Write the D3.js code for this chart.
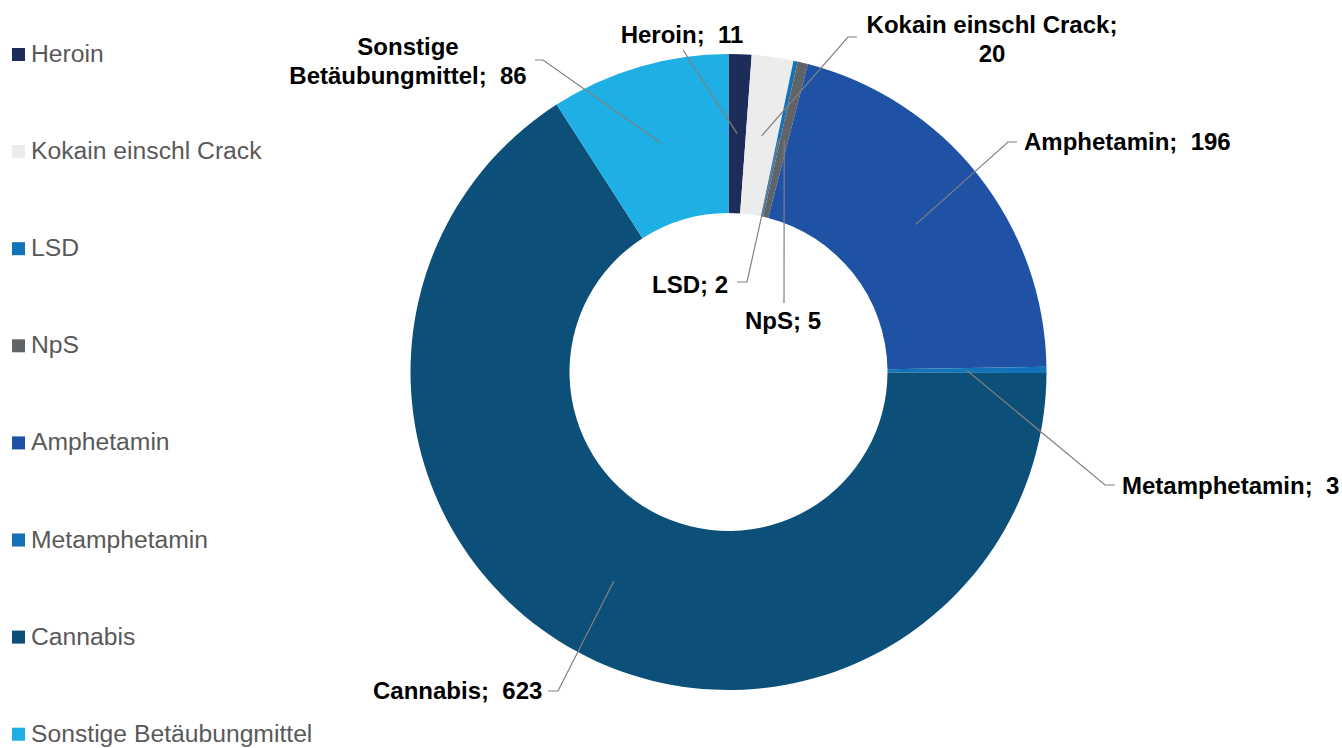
<!DOCTYPE html>
<html>
<head>
<meta charset="utf-8">
<script src="https://cdn.jsdelivr.net/npm/d3@7"></script>
<style>
  html, body { margin: 0; padding: 0; background: #ffffff; }
  svg { display: block; }
</style>
</head>
<body>
<svg id="chart" width="1342" height="748"></svg>
<script>
// Substances and counts
const categories = ["Heroin", "Kokain einschl Crack", "LSD", "NpS", "Amphetamin", "Metamphetamin", "Cannabis", "Sonstige Betäubungmittel"];
const values = [11, 20, 2, 5, 196, 3, 623, 86];
const colors = ["#1e2c5a", "#ececec", "#1273b9", "#616466", "#1f52a4", "#1273b9", "#0c4f78", "#1eb0e4"];

// Data label text lines (label text as shown next to each slice)
const labelLines = [
  ["Heroin;\u00a0 11"],
  ["Kokain einschl Crack;", "20"],
  ["LSD; 2"],
  ["NpS; 5"],
  ["Amphetamin;\u00a0 196"],
  ["Metamphetamin;\u00a0 3"],
  ["Cannabis;\u00a0 623"],
  ["Sonstige", "Betäubungmittel;\u00a0 86"]
];

// Label placement: text anchor point, alignment, and leader-line elbow points
const labelLayout = [
  { x: 682, y: 43, anchor: "middle", elbow: [[683, 50]] },
  { x: 992, y: 33, anchor: "middle", elbow: [[857, 37], [848, 37]] },
  { x: 728, y: 293, anchor: "end", elbow: [[737, 282], [747, 282]] },
  { x: 745, y: 329, anchor: "start", elbow: [[784, 303]] },
  { x: 1024, y: 150, anchor: "start", elbow: [[1017, 142], [1008, 142]] },
  { x: 1122, y: 494, anchor: "start", elbow: [[1115, 485], [1105, 485]] },
  { x: 373, y: 699, anchor: "start", elbow: [[548, 691], [558, 691]] },
  { x: 408, y: 55, anchor: "middle", elbow: [[535, 60], [543, 60]] }
];

const svg = d3.select("#chart");
const cx = 728.5, cy = 372;
const outerR = 318, innerR = 159;

const data = categories.map((c, i) => ({ name: c, value: values[i], color: colors[i], lines: labelLines[i], layout: labelLayout[i] }));

const pie = d3.pie().sort(null).value(d => d.value);
const arcs = pie(data);

const arc = d3.arc().innerRadius(innerR).outerRadius(outerR);
const midArc = d3.arc().innerRadius((innerR + outerR) / 2).outerRadius((innerR + outerR) / 2);

const g = svg.append("g").attr("transform", `translate(${cx},${cy})`);

g.selectAll("path.slice")
  .data(arcs)
  .enter().append("path")
  .attr("class", "slice")
  .attr("d", arc)
  .attr("fill", d => d.data.color);

// Leader lines
const line = d3.line();
svg.selectAll("path.leader")
  .data(arcs)
  .enter().append("path")
  .attr("class", "leader")
  .attr("d", d => {
    const c = midArc.centroid(d);
    const pts = d.data.layout.elbow.concat([[cx + c[0], cy + c[1]]]);
    return line(pts);
  })
  .attr("fill", "none")
  .attr("stroke", "#808080")
  .attr("stroke-width", 1.2);

// Data labels
const lbl = svg.selectAll("text.dlabel")
  .data(arcs)
  .enter().append("text")
  .attr("class", "dlabel")
  .attr("x", d => d.data.layout.x)
  .attr("y", d => d.data.layout.y)
  .attr("text-anchor", d => d.data.layout.anchor)
  .attr("font-family", "'Liberation Sans', Arial, sans-serif")
  .attr("font-weight", "bold")
  .attr("font-size", 24)
  .attr("fill", "#000000");

lbl.each(function(d) {
  const t = d3.select(this);
  d.data.lines.forEach((s, i) => {
    t.append("tspan")
      .attr("x", d.data.layout.x)
      .attr("dy", i === 0 ? 0 : 28.5)
      .text(s);
  });
});

// Legend
const legend = svg.append("g").attr("class", "legend");
const legendStart = 62, legendStep = 97.1;
const items = legend.selectAll("g.item")
  .data(data)
  .enter().append("g")
  .attr("class", "item")
  .attr("transform", (d, i) => `translate(0,${legendStart + i * legendStep})`);

items.append("rect")
  .attr("x", 12).attr("y", -14)
  .attr("width", 13).attr("height", 13)
  .attr("fill", d => d.color);

items.append("text")
  .attr("x", 31).attr("y", 0)
  .attr("font-family", "'Liberation Sans', Arial, sans-serif")
  .attr("font-size", 24.7)
  .attr("fill", "#595959")
  .text(d => d.name);
</script>
</body>
</html>
